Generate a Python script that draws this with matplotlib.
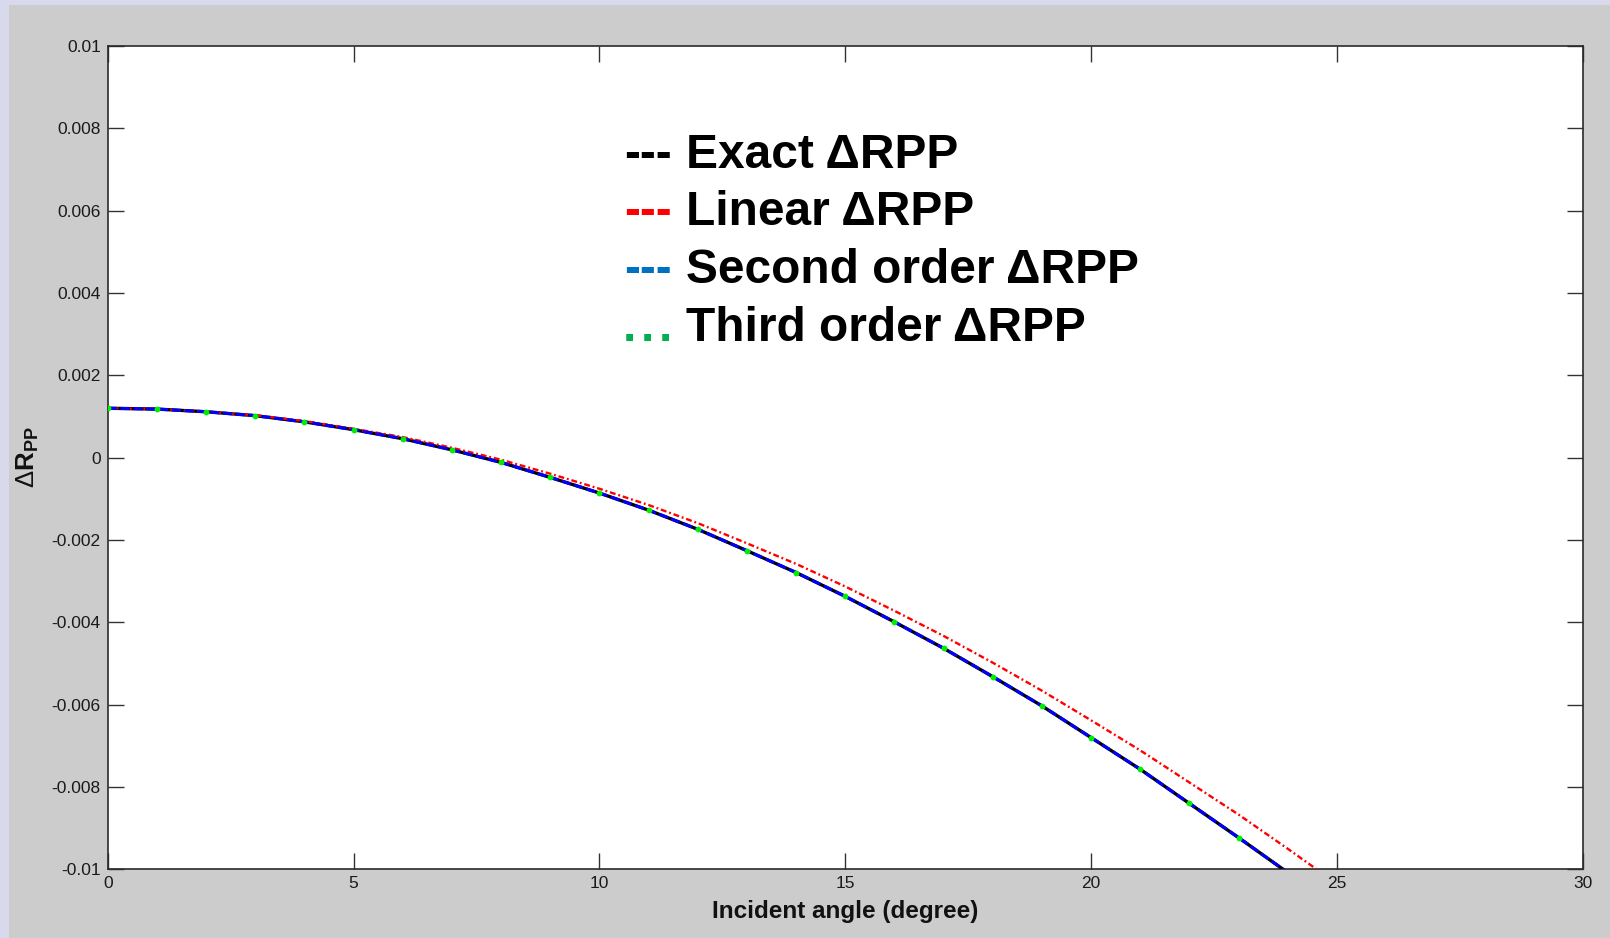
import matplotlib
matplotlib.use("Agg")
import matplotlib.pyplot as plt
from matplotlib.patches import Rectangle

# Incident angle samples (degrees)
angle = list(range(0, 26))

# Reflection-coefficient change, Delta R_PP
exact_rpp = [0.00120, 0.00118, 0.001115, 0.00102, 0.00087, 0.00068, 0.00046, 0.00019,
             -0.000115, -0.00048, -0.00086, -0.001275, -0.00174, -0.00226, -0.00279,
             -0.00337, -0.00399, -0.00463, -0.00532, -0.00603, -0.00680, -0.00757,
             -0.00840, -0.00923, -0.01008, -0.01095]
linear_rpp = [0.00120, 0.00118, 0.00112, 0.00103, 0.00089, 0.00070, 0.00050, 0.00024,
              -0.00005, -0.00039, -0.000755, -0.00115, -0.00159, -0.00208, -0.00258,
              -0.00313, -0.00372, -0.00433, -0.00498, -0.00566, -0.00638, -0.00711,
              -0.00789, -0.00867, -0.00950, -0.01035]
second_rpp = [0.00120, 0.00118, 0.001115, 0.00102, 0.00087, 0.00068, 0.00046, 0.00019,
              -0.000115, -0.00048, -0.00086, -0.001275, -0.00174, -0.00226, -0.00279,
              -0.00337, -0.00399, -0.00463, -0.00532, -0.00603, -0.00680, -0.00757,
              -0.00840, -0.00923, -0.01008, -0.01095]
third_rpp = [0.00120, 0.00118, 0.001115, 0.00102, 0.00087, 0.00068, 0.00046, 0.00019,
             -0.000115, -0.00048, -0.00086, -0.001275, -0.00174, -0.00226, -0.00279,
             -0.00337, -0.00399, -0.00463, -0.00532, -0.00603, -0.00680, -0.00757,
             -0.00840, -0.00923, -0.01008, -0.01095]

x_ticks = [0, 5, 10, 15, 20, 25, 30]
y_ticks = [0.01, 0.008, 0.006, 0.004, 0.002, 0, -0.002, -0.004, -0.006, -0.008, -0.01]
y_tick_labels = ["0.01", "0.008", "0.006", "0.004", "0.002", "0",
                 "-0.002", "-0.004", "-0.006", "-0.008", "-0.01"]

legend_labels = ["Exact \u0394RPP", "Linear \u0394RPP", "Second order \u0394RPP", "Third order \u0394RPP"]
legend_marks = ["---", "---", "---", "..."]
legend_colors = ["#000000", "#ff0000", "#0070c0", "#00b050"]

plt.rcParams["font.family"] = ["Liberation Sans", "DejaVu Sans"]
plt.rcParams["mathtext.fontset"] = "custom"
plt.rcParams["mathtext.rm"] = "Liberation Sans"
plt.rcParams["mathtext.bf"] = "Liberation Sans:bold"
plt.rcParams["mathtext.it"] = "Liberation Sans:italic"

W, H = 1610, 938
fig = plt.figure(figsize=(W / 100, H / 100), dpi=100)
fig.patch.set_facecolor("#d9d9ee")
fig.add_artist(Rectangle((9 / W, 0), 1 - 9 / W, 1 - 5 / H, transform=fig.transFigure,
                         facecolor="#cccccc", edgecolor="none", zorder=-5))

ax = fig.add_axes([107.7 / W, 1 - 869.3 / H, 1475.0 / W, 823.3 / H])
ax.set_facecolor("white")

ax.plot(angle, exact_rpp, color="black", lw=2.4, solid_capstyle="butt", zorder=3)
ax.plot(angle, second_rpp, color=(0, 0, 1), lw=2.2, dashes=(3, 1.2), zorder=4)
ax.plot(angle, linear_rpp, color=(1, 0, 0), lw=1.7, dashes=(2.5, 1.2, 0.8, 1.2), zorder=3)
ax.plot(angle, third_rpp, linestyle="none", marker="o", ms=4.2, mew=0,
        color="#00ee00", zorder=5)

ax.set_xlim(0, 30)
ax.set_ylim(-0.01, 0.01)
ax.set_xticks(x_ticks)
ax.set_xticklabels([str(t) for t in x_ticks])
ax.set_yticks(y_ticks)
ax.set_yticklabels(y_tick_labels)
ax.tick_params(direction="in", length=11.5, width=1.0, top=True, right=True,
               labelsize=12.5, pad=5, color="#333333", labelcolor="#1a1a1a")
for s in ax.spines.values():
    s.set_color("#2a2a2a")
    s.set_linewidth(1.2)

ax.set_xlabel("Incident angle (degree)", fontsize=17.5, fontweight="bold",
              color="#111111", labelpad=6.5)
ax.set_ylabel(r"$\Delta\mathbf{R}_{\mathbf{PP}}$", fontsize=18.5, color="#111111")
ax.yaxis.set_label_coords(-0.0452, 0.5)

# Text legend
baselines = [167.5, 225.0, 283.0, 341.0]
for lab, mk, col, yb in zip(legend_labels, legend_marks, legend_colors, baselines):
    if mk == "...":
        for k in range(3):
            fig.text((623 + 18 * k) / W, 1 - yb / H, ".", color=col, fontsize=34.5,
                     fontweight="bold", ha="left", va="baseline")
    else:
        fig.text(624 / W, 1 - yb / H, mk, color=col, fontsize=34.5, fontweight="bold",
                 ha="left", va="baseline")
    fig.text(686 / W, 1 - yb / H, lab, color="black", fontsize=34.5, fontweight="bold",
             ha="left", va="baseline")

fig.savefig("out.png", dpi=100, facecolor=fig.get_facecolor())
